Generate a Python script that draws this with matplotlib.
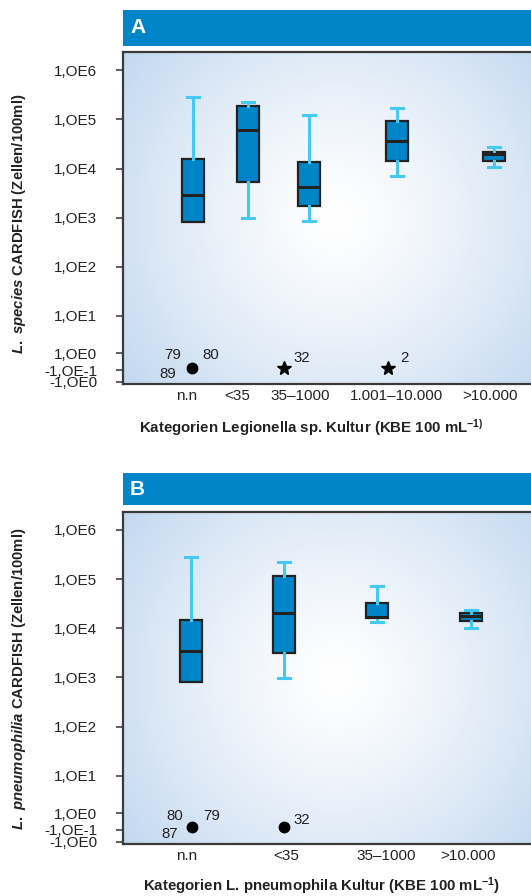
import numpy as np
import matplotlib
matplotlib.use("Agg")
import matplotlib.pyplot as plt
from matplotlib.patches import Rectangle

plt.rcParams['font.family'] = ['Liberation Sans', 'DejaVu Sans']
plt.rcParams['mathtext.fontset'] = 'custom'
plt.rcParams['mathtext.it'] = 'Liberation Sans:italic:bold'
plt.rcParams['mathtext.rm'] = 'Liberation Sans:bold'
plt.rcParams['mathtext.bf'] = 'Liberation Sans:bold'

# ---------------- data (cells / 100 ml) ----------------
cats_a = ["n.n", "<35", "35\u20131000", "1.001\u201310.000", ">10.000"]
whislo_a = [830, 1000, 850, 7100, 10700]
q1_a     = [830, 5300, 1700, 14500, 14500]
med_a    = [2900, 62000, 4200, 36000, 19500]
q3_a     = [15500, 190000, 13800, 91000, 22000]
whishi_a = [290000, 230000, 120000, 170000, 27000]

cats_b = ["n.n", "<35", "35\u20131000", ">10.000"]
whislo_b = [800, 950, 13300, 10300]
q1_b     = [800, 3200, 16300, 13700]
med_b    = [3400, 20000, 17000, 18000]
q3_b     = [14800, 115000, 32000, 20500]
whishi_b = [280000, 220000, 73000, 23500]

# outliers: category index, plotted level (log units, "-1,OE-1" row), marker, labels
out_a_cat = [0, 2, 3]
out_a_lvl = [-0.05, -0.05, -0.05]
out_a_mk = ['o', '*', '*']
out_a_lab = [["79", "80", "89"], ["32"], ["2"]]
out_b_cat = [0, 1]
out_b_lvl = [-0.05, -0.05]
out_b_mk = ['o', 'o']
out_b_lab = [["80", "79", "87"], ["32"]]

ytick_labels = ["1,OE6", "1,OE5", "1,OE4", "1,OE3", "1,OE2", "1,OE1",
                "1,OE0", "-1,OE-1", "-1,OE0"]

# ---------------- layout ----------------
W, H = 531, 896
ytick_pos = [6, 5, 4, 3, 2, 1, 0.24, -0.10, -0.34]
pos_a = [192.7, 247.7, 309.3, 396.7, 494.0]
lab_a = [186.5, 237.5, 300.0, 396.7, 490.0]
pos_b = [190.7, 284.3, 377.3, 470.7]
lab_b = [186.5, 286.0, 386.0, 468.0]
out_a_dx = [-1.0, -25.0, -8.4]
out_b_dx = [1.0, 0.0]
lab_off_a = [[(-18.7, 12.3), (19.0, 12.3), (-23.7, -6.7)], [(17.4, 9.3)], [(15.7, 9.3)]]
lab_off_b = [[(-16.7, 11.3), (20.0, 11.3), (-22.4, -6.7)], [(17.4, 7.3)]]

BLUE = '#0085C9'
WHISK = '#45C8F2'
DARK = '#222222'

fig = plt.figure(figsize=(W / 100, H / 100), dpi=100)


def gradient(ax, wpx, hpx):
    yy, xx = np.mgrid[0:hpx, 0:wpx]
    cx, cy = wpx * 0.52, hpx * 0.50
    d = np.sqrt((xx - cx) ** 2 + (yy - cy) ** 2) / 290.0
    t = np.clip(d, 0, 1) ** 1.3
    edge = np.array([0xBC, 0xD4, 0xEE]) / 255.0
    img = (1 - t)[..., None] * np.ones(3) + t[..., None] * edge
    ax.imshow(img, extent=[0, 1, 0, 1], transform=ax.transAxes,
              aspect='auto', zorder=0, interpolation='bilinear')


def panel(top, bottom, hdr_top, hdr_bot, letter, cats, pos, labpos,
          wl, q1, md, q3, wh, ocat, olvl, omk, olab, odx, loff,
          ylabel, ylab_y, xlabel, xlab_x, xlab_y):
    left, right = 123, 533
    ax = fig.add_axes([left / W, 1 - bottom / H, (right - left) / W, (bottom - top) / H])
    gradient(ax, right - left, int(bottom - top))
    # header bar
    fig.patches.append(Rectangle((left / W, 1 - hdr_bot / H), (W - left) / W + 0.01,
                                 (hdr_bot - hdr_top) / H, transform=fig.transFigure,
                                 facecolor=BLUE, edgecolor='none', zorder=0))
    fig.text(130 / W, 1 - (hdr_top + hdr_bot) / 2 / H, letter, color='white',
             fontsize=15, fontweight='bold', va='center', ha='left')
    stats = []
    for i in range(len(cats)):
        stats.append(dict(whislo=np.log10(wl[i]), q1=np.log10(q1[i]),
                          med=np.log10(md[i]), q3=np.log10(q3[i]),
                          whishi=np.log10(wh[i]), fliers=[]))
    art = ax.bxp(stats, positions=pos, widths=22, capwidths=12, patch_artist=True,
                 manage_ticks=False, showfliers=False,
                 boxprops=dict(facecolor=BLUE, edgecolor=DARK, linewidth=1.6),
                 medianprops=dict(color=DARK, linewidth=2.2),
                 whiskerprops=dict(color=WHISK, linewidth=2.2),
                 capprops=dict(color=WHISK, linewidth=2.2), zorder=3)
    for i in range(len(cats)):
        if wl[i] == q1[i]:
            art['caps'][2 * i].set_visible(False)
            art['whiskers'][2 * i].set_visible(False)
        if wh[i] == q3[i]:
            art['caps'][2 * i + 1].set_visible(False)
            art['whiskers'][2 * i + 1].set_visible(False)
    for k in range(len(ocat)):
        x = pos[ocat[k]] + odx[k]
        ms = 7.5 if omk[k] == 'o' else 10
        ax.plot([x], [olvl[k]], marker=omk[k], ms=ms, color='black',
                linestyle='none', zorder=4)
        for lab, (dx, dy) in zip(olab[k], loff[k]):
            ax.annotate(lab, (x, olvl[k]), xytext=(dx * 0.72, dy * 0.72),
                        textcoords='offset points', ha='center', va='center',
                        fontsize=10.8, color='#222222', zorder=5)
    ax.set_xlim(left, right)
    ax.set_ylim(-0.39, 6.37)
    ax.set_yticks(ytick_pos)
    ax.set_yticklabels(ytick_labels)
    ax.set_xticks(labpos)
    ax.set_xticklabels(cats)
    ax.tick_params(axis='y', direction='out', length=5, width=1.1, color='#333333',
                   pad=13.5, labelsize=11, labelcolor='#222222')
    ax.tick_params(axis='x', length=0, pad=3.5, labelsize=11, labelcolor='#222222')
    for s in ['left', 'top', 'bottom']:
        ax.spines[s].set_color('#3a3a3a')
        ax.spines[s].set_linewidth(1.6)
    ax.spines['right'].set_visible(False)
    fig.text(19 / W, 1 - ylab_y / H, ylabel, rotation=90, fontsize=10.7,
             fontweight='bold', ha='center', va='center', color='#222222')
    fig.text(xlab_x / W, 1 - xlab_y / H, xlabel, fontsize=10.8, fontweight='bold',
             ha='center', va='center', color='#222222')
    return ax


panel(52, 384.3, 10, 45.7, "A", cats_a, pos_a, lab_a,
      whislo_a, q1_a, med_a, q3_a, whishi_a,
      out_a_cat, out_a_lvl, out_a_mk, out_a_lab, out_a_dx, lab_off_a,
      r"$\mathit{L.\ species}$ CARDFISH (Zellen/100ml)", 223.5,
      r"Kategorien Legionella sp. Kultur (KBE 100 mL$^{-1)}$", 311.7, 428)

panel(511.7, 844, 473, 505, "B", cats_b, pos_b, lab_b,
      whislo_b, q1_b, med_b, q3_b, whishi_b,
      out_b_cat, out_b_lvl, out_b_mk, out_b_lab, out_b_dx, lab_off_b,
      r"$\mathit{L.\ pneumophilia}$ CARDFISH (Zellen/100ml)", 679,
      r"Kategorien L. pneumophila Kultur (KBE 100 mL$^{-1}$)", 322, 886)

fig.savefig("out.png", dpi=100)
